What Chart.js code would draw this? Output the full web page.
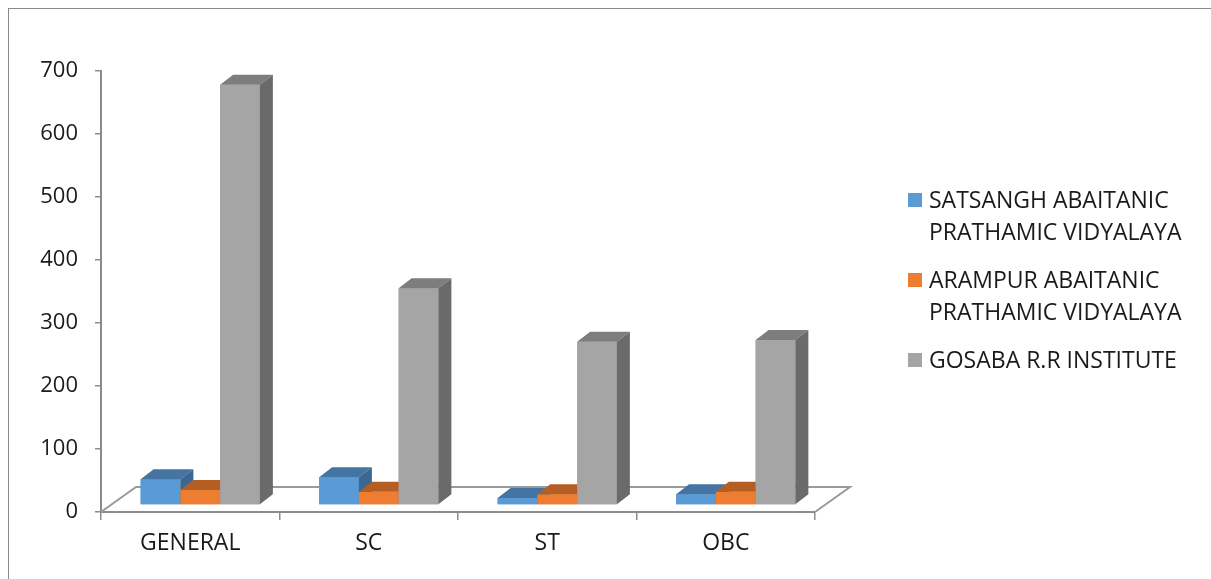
<!DOCTYPE html>
<html>
<head>
<meta charset="utf-8">
<script src="https://cdn.jsdelivr.net/npm/chart.js@4.4.1/dist/chart.umd.min.js"></script>
<style>
  html, body { margin: 0; padding: 0; background: #fff; }
  #wrap { position: relative; width: 1211px; height: 579px; overflow: hidden; }
  #frame { position: absolute; left: 8px; top: 8px; width: 1400px; height: 800px;
           border-top: 1px solid #8a8a8a; border-left: 1px solid #8a8a8a; }
  canvas { position: absolute; left: 0; top: 0; }
  .item { position: absolute; left: 908px; width: 300px; font-family: "Open Sans", sans-serif;
          font-size: 23px; line-height: 32px; color: #1a1a1a; }
  .item i { position: absolute; left: 0; top: 10px; width: 14px; height: 14px; }
  .item span { display: block; margin-left: 21px; }
</style>
</head>
<body>
<div id="wrap">
  <div id="frame"></div>
  <canvas id="myChart" width="1211" height="579"></canvas>
  <div id="legend"></div>
</div>
<script>
const categories = ["GENERAL", "SC", "ST", "OBC"];
const satsangh = [41, 44, 11, 17];
const arampur = [24, 21, 17, 21];
const gosaba = [667, 344, 259, 262];
const seriesNames = [
  "SATSANGH ABAITANIC PRATHAMIC VIDYALAYA",
  "ARAMPUR ABAITANIC PRATHAMIC VIDYALAYA",
  "GOSABA R.R INSTITUTE",
];
const yMax = 700;
const yStep = 100;

// front, top, side colours per series
const colors = [
  { front: "#5b9bd5", top: "#4374a2", side: "#3a6893" },
  { front: "#ed7d31", top: "#b55e23", side: "#a2531e" },
  { front: "#a5a5a5", top: "#7d7d7d", side: "#6a6a6a" },
];

// depth of the floor and of the bars (px)
const FLOOR_X = 35, FLOOR_Y = 25;
const SHIFT_X = 10, SHIFT_Y = 7;
const DEPTH_X = 13, DEPTH_Y = 10;

const bars3d = {
  id: "bars3d",
  beforeDatasetsDraw(chart) {
    const { ctx, chartArea: a } = chart;
    ctx.save();
    ctx.beginPath();
    ctx.moveTo(a.left, a.bottom);
    ctx.lineTo(a.left + FLOOR_X, a.bottom - FLOOR_Y);
    ctx.lineTo(a.right + FLOOR_X, a.bottom - FLOOR_Y);
    ctx.lineTo(a.right, a.bottom);
    ctx.strokeStyle = "#9a9a9a";
    ctx.lineWidth = 2;
    ctx.stroke();
    ctx.restore();
    ctx.save();
    ctx.translate(SHIFT_X, -SHIFT_Y);
  },
  afterDatasetsDraw(chart) {
    const ctx = chart.ctx;
    const nDs = chart.data.datasets.length;
    for (let j = 0; j < chart.data.labels.length; j++) {
      for (let i = 0; i < nDs; i++) {
        const el = chart.getDatasetMeta(i).data[j];
        const c = colors[i];
        const l = el.x - el.width / 2, r = el.x + el.width / 2;
        const t = el.y, b = el.base;
        ctx.fillStyle = c.front;
        ctx.fillRect(l, t, r - l, b - t);
        ctx.fillStyle = c.top;
        ctx.beginPath();
        ctx.moveTo(l, t);
        ctx.lineTo(l + DEPTH_X, t - DEPTH_Y);
        ctx.lineTo(r + DEPTH_X, t - DEPTH_Y);
        ctx.lineTo(r, t);
        ctx.closePath();
        ctx.fill();
        ctx.fillStyle = c.side;
        ctx.beginPath();
        ctx.moveTo(r, t);
        ctx.lineTo(r + DEPTH_X, t - DEPTH_Y);
        ctx.lineTo(r + DEPTH_X, b - DEPTH_Y);
        ctx.lineTo(r, b);
        ctx.closePath();
        ctx.fill();
      }
    }
    ctx.restore();
  },
};

new Chart(document.getElementById("myChart"), {
  type: "bar",
  data: {
    labels: categories,
    datasets: [satsangh, arampur, gosaba].map((d, i) => ({
      label: seriesNames[i],
      data: d,
      backgroundColor: colors[i].front,
      categoryPercentage: 0.668,
      barPercentage: 1.0,
    })),
  },
  options: {
    responsive: false,
    animation: false,
    layout: { padding: { left: 0, top: 71, right: 396, bottom: 0 } },
    plugins: {
      legend: { display: false },
      tooltip: { enabled: false },
    },
    scales: {
      x: {
        grid: { drawOnChartArea: false, tickLength: 8, color: "#8c8c8c", lineWidth: 1.5 },
        border: { color: "#8c8c8c", width: 2 },
        ticks: { font: { family: "Open Sans", size: 23 }, color: "#1a1a1a", padding: 10 },
        afterFit: (s) => { s.height = 67; },
      },
      y: {
        min: 0,
        max: yMax,
        grid: { drawOnChartArea: false, tickLength: 6, color: "#8c8c8c", lineWidth: 1.5 },
        border: { color: "#8c8c8c", width: 2 },
        ticks: { stepSize: yStep, font: { family: "Open Sans", size: 22 }, color: "#1a1a1a", padding: 17 },
        afterFit: (s) => { s.width = 101; },
      },
    },
  },
  plugins: [bars3d],
});

// legend
const legend = document.getElementById("legend");
const tops = [183, 263, 343];
seriesNames.forEach((name, i) => {
  const item = document.createElement("div");
  item.className = "item";
  item.style.top = tops[i] + "px";
  const sw = document.createElement("i");
  sw.style.background = colors[i].front;
  const txt = document.createElement("span");
  txt.textContent = name;
  item.appendChild(sw);
  item.appendChild(txt);
  legend.appendChild(item);
});
</script>
</body>
</html>
